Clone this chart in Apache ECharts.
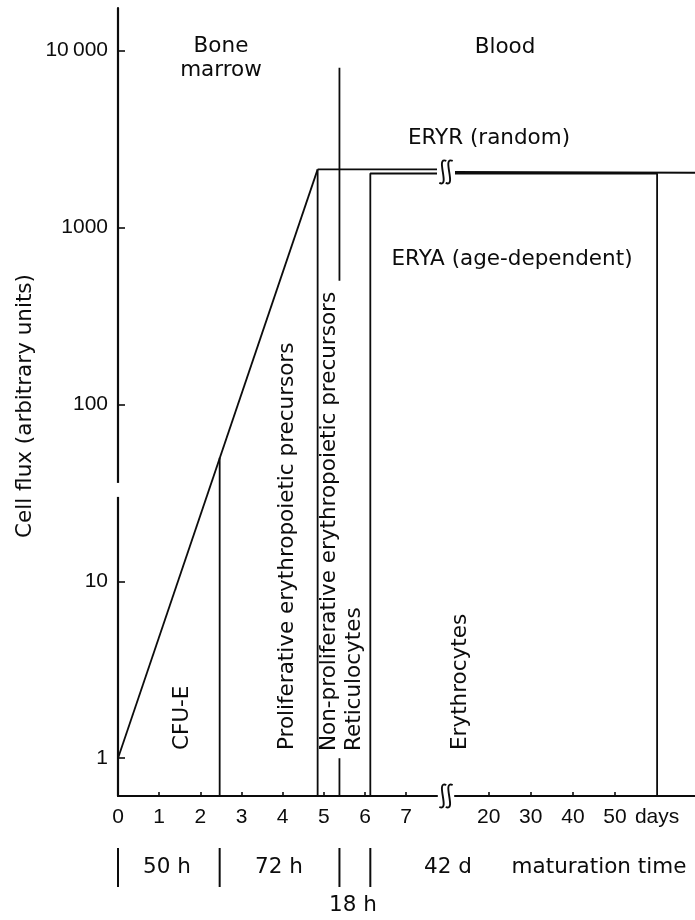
<!DOCTYPE html>
<html>
<head>
<meta charset="utf-8">
<script src="https://cdn.jsdelivr.net/npm/echarts@6/dist/echarts.min.js"></script>
<style>
  html, body { margin: 0; padding: 0; background: #fff; }
  #chart { width: 695px; height: 920px; }
</style>
</head>
<body>
<div id="chart"></div>
<script>
// ---- axes ----
const marrowDayRange = [0, 7.75];          // first time segment (days)
const bloodDayRange = [12, 69];            // second time segment (days)
const fluxRange = [0.6115, 17410];         // log flux extent
const marrowTicks = [0, 1, 2, 3, 4, 5, 6, 7];
const bloodTicks = [20, 30, 40, 50, 60];
const bloodTickLabels = ['20', '30', '40', '50', 'days'];
const fluxTicks = [1, 10, 100, 1000, 10000];
const fluxTickLabels = ['1', '10', '100', '1000', '10\u2009000'];
const fluxAxisGap = [30, 36];              // small break in the flux axis

// ---- compartment boundaries (days) ----
const cfuEndDay = 2.47;
const proliferativeEndDay = 4.85;
const marrowExitDay = 5.38;
const reticulocyteEndDay = 6.13;
const erythrocyteEndDay = 60;

// ---- flux values ----
const startFlux = 1;
const cfuEndFlux = 50;
const peakFlux = 2130;
const eryaFlux = 2020;
const eryrBloodFlux = [2060, 2040];
const marrowExitSpans = [[fluxRange[0], 1.0], [500, 8000]];

// ---- maturation time strip ----
const maturationBounds = [0, cfuEndDay, marrowExitDay, reticulocyteEndDay];
const maturationLabels = ['50 h', '72 h', '18 h', '42 d', 'maturation time'];

const INK = '#0c0c0c';
const TEXT_FONT = 'DejaVu Sans';
const NUM_FONT = 'Liberation Sans';
const TEXT_SIZE = '21.5px';

function seg(points, grid) {
  return {
    type: 'line',
    xAxisIndex: grid, yAxisIndex: grid,
    data: points,
    symbol: 'none',
    silent: true,
    lineStyle: { color: INK, width: 1.8 },
    z: 3
  };
}

const chart = echarts.init(document.getElementById('chart'), null, { renderer: 'canvas' });

const axisLineStyle = { color: INK, width: 2.2 };

chart.setOption({
  animation: false,
  backgroundColor: '#fff',
  grid: [
    { left: 118, top: 8, width: 319, height: 788 },
    { left: 455, top: 8, right: 0, height: 788 }
  ],
  xAxis: [
    {
      gridIndex: 0, type: 'value', min: marrowDayRange[0], max: marrowDayRange[1],
      axisLine: { onZero: false, lineStyle: axisLineStyle },
      axisTick: { inside: true, length: 4, customValues: marrowTicks, lineStyle: { color: INK, width: 1.6 } },
      axisLabel: { customValues: marrowTicks, color: INK, fontFamily: NUM_FONT, fontSize: 21, margin: 11 },
      splitLine: { show: false }
    },
    {
      gridIndex: 1, type: 'value', min: bloodDayRange[0], max: bloodDayRange[1],
      axisLine: { onZero: false, lineStyle: axisLineStyle },
      axisTick: { inside: true, length: 4, customValues: bloodTicks.slice(0, 4), lineStyle: { color: INK, width: 1.6 } },
      axisLabel: {
        customValues: bloodTicks, color: INK, fontFamily: NUM_FONT, fontSize: 21, margin: 11,
        formatter: v => bloodTickLabels[bloodTicks.indexOf(Math.round(v))] || ''
      },
      splitLine: { show: false }
    }
  ],
  yAxis: [
    {
      gridIndex: 0, type: 'log', logBase: 10, min: fluxRange[0], max: fluxRange[1],
      axisLine: { show: true, lineStyle: axisLineStyle },
      axisTick: { inside: true, length: 7, customValues: fluxTicks, lineStyle: { color: INK, width: 1.6 } },
      axisLabel: {
        customValues: fluxTicks, color: INK, fontFamily: NUM_FONT, fontSize: 21, margin: 10,
        formatter: v => fluxTickLabels[fluxTicks.indexOf(Math.round(v))] || ''
      },
      splitLine: { show: false }
    },
    {
      gridIndex: 1, type: 'log', logBase: 10, min: fluxRange[0], max: fluxRange[1], show: false
    }
  ],
  series: [
    // exponential growth through CFU-E and proliferative precursors
    seg([[0, startFlux], [proliferativeEndDay, peakFlux]], 0),
    seg([[cfuEndDay, fluxRange[0]], [cfuEndDay, cfuEndFlux]], 0),
    seg([[proliferativeEndDay, fluxRange[0]], [proliferativeEndDay, peakFlux]], 0),
    // marrow / blood divide
    seg([[marrowExitDay, marrowExitSpans[0][0]], [marrowExitDay, marrowExitSpans[0][1]]], 0),
    seg([[marrowExitDay, marrowExitSpans[1][0]], [marrowExitDay, marrowExitSpans[1][1]]], 0),
    // ERYR (random) plateau
    seg([[proliferativeEndDay, peakFlux], [marrowDayRange[1], peakFlux]], 0),
    seg([[bloodDayRange[0], eryrBloodFlux[0]], [bloodDayRange[1], eryrBloodFlux[1]]], 1),
    // ERYA (age-dependent) box
    seg([[reticulocyteEndDay, fluxRange[0]], [reticulocyteEndDay, eryaFlux], [marrowDayRange[1], eryaFlux]], 0),
    seg([[bloodDayRange[0], eryaFlux], [erythrocyteEndDay, eryaFlux], [erythrocyteEndDay, fluxRange[0]]], 1)
  ]
});

// ---- annotations positioned through the axes ----
const px0 = (x, y) => chart.convertToPixel({ xAxisIndex: 0, yAxisIndex: 0 }, [x, y]);
const px1 = (x, y) => chart.convertToPixel({ xAxisIndex: 1, yAxisIndex: 1 }, [x, y]);

const breakLeft = px0(marrowDayRange[1], fluxRange[0])[0];
const breakRight = px1(bloodDayRange[0], fluxRange[0])[0];
const breakX = (breakLeft + breakRight) / 2;
const axisY = px0(0, fluxRange[0])[1];
const plateauY = (px0(0, peakFlux)[1] + px1(0, eryaFlux)[1]) / 2 + 0.5;

// double "integral" break mark
function squiggle(cx, cy) {
  const out = [];
  [-3.2, 3.2].forEach(dx => {
    const x = cx + dx;
    out.push({
      type: 'bezierCurve',
      shape: { x1: x + 3.5, y1: cy - 11, cpx1: x - 8, cpy1: cy - 16, cpx2: x + 8, cpy2: cy + 16, x2: x - 3.5, y2: cy + 11 },
      style: { stroke: INK, lineWidth: 1.9, fill: null },
      z: 10
    });
  });
  return out;
}

const gapTop = px0(0, fluxAxisGap[1])[1];
const gapBottom = px0(0, fluxAxisGap[0])[1];

const barTop = 848, barBottom = 887;
const bars = maturationBounds.map(d => {
  const x = px0(d, fluxRange[0])[0];
  return { type: 'line', shape: { x1: x, y1: barTop, x2: x, y2: barBottom }, style: { stroke: INK, lineWidth: 2 }, z: 10 };
});

function label(text, x, y) {
  return {
    type: 'text', x: x, y: y, z: 10,
    style: { text: text, fill: INK, font: TEXT_SIZE + ' "' + TEXT_FONT + '"', align: 'center', verticalAlign: 'middle' }
  };
}
function vlabel(text, x, yStart, align) {
  return {
    type: 'text', x: x, y: yStart, rotation: Math.PI / 2, z: 10,
    style: { text: text, fill: INK, font: TEXT_SIZE + ' "' + TEXT_FONT + '"', align: align || 'left', verticalAlign: 'middle' }
  };
}

const graphics = [
  { type: 'rect', shape: { x: 112, y: gapTop, width: 12, height: gapBottom - gapTop }, style: { fill: '#fff' }, z: 9 },
  ...squiggle(breakX, axisY),
  ...squiggle(breakX, plateauY),
  ...bars,
  label('Bone', 221, 46),
  label('marrow', 221, 70),
  label('Blood', 505, 47),
  label('ERYR (random)', 489, 138),
  label('ERYA (age-dependent)', 512, 259),
  vlabel('Cell flux (arbitrary units)', 25, 406, 'center'),
  vlabel('CFU-E', 182, 750),
  vlabel('Proliferative erythropoietic precursors', 287, 750),
  vlabel('Non-proliferative erythropoietic precursors', 329, 751),
  vlabel('Reticulocytes', 354, 751),
  vlabel('Erythrocytes', 460, 750),
  label(maturationLabels[0], 167, 867),
  label(maturationLabels[1], 279, 867),
  label(maturationLabels[2], 353, 905),
  label(maturationLabels[3], 448, 867),
  label(maturationLabels[4], 599, 867)
];

chart.setOption({ graphic: graphics });
</script>
</body>
</html>
